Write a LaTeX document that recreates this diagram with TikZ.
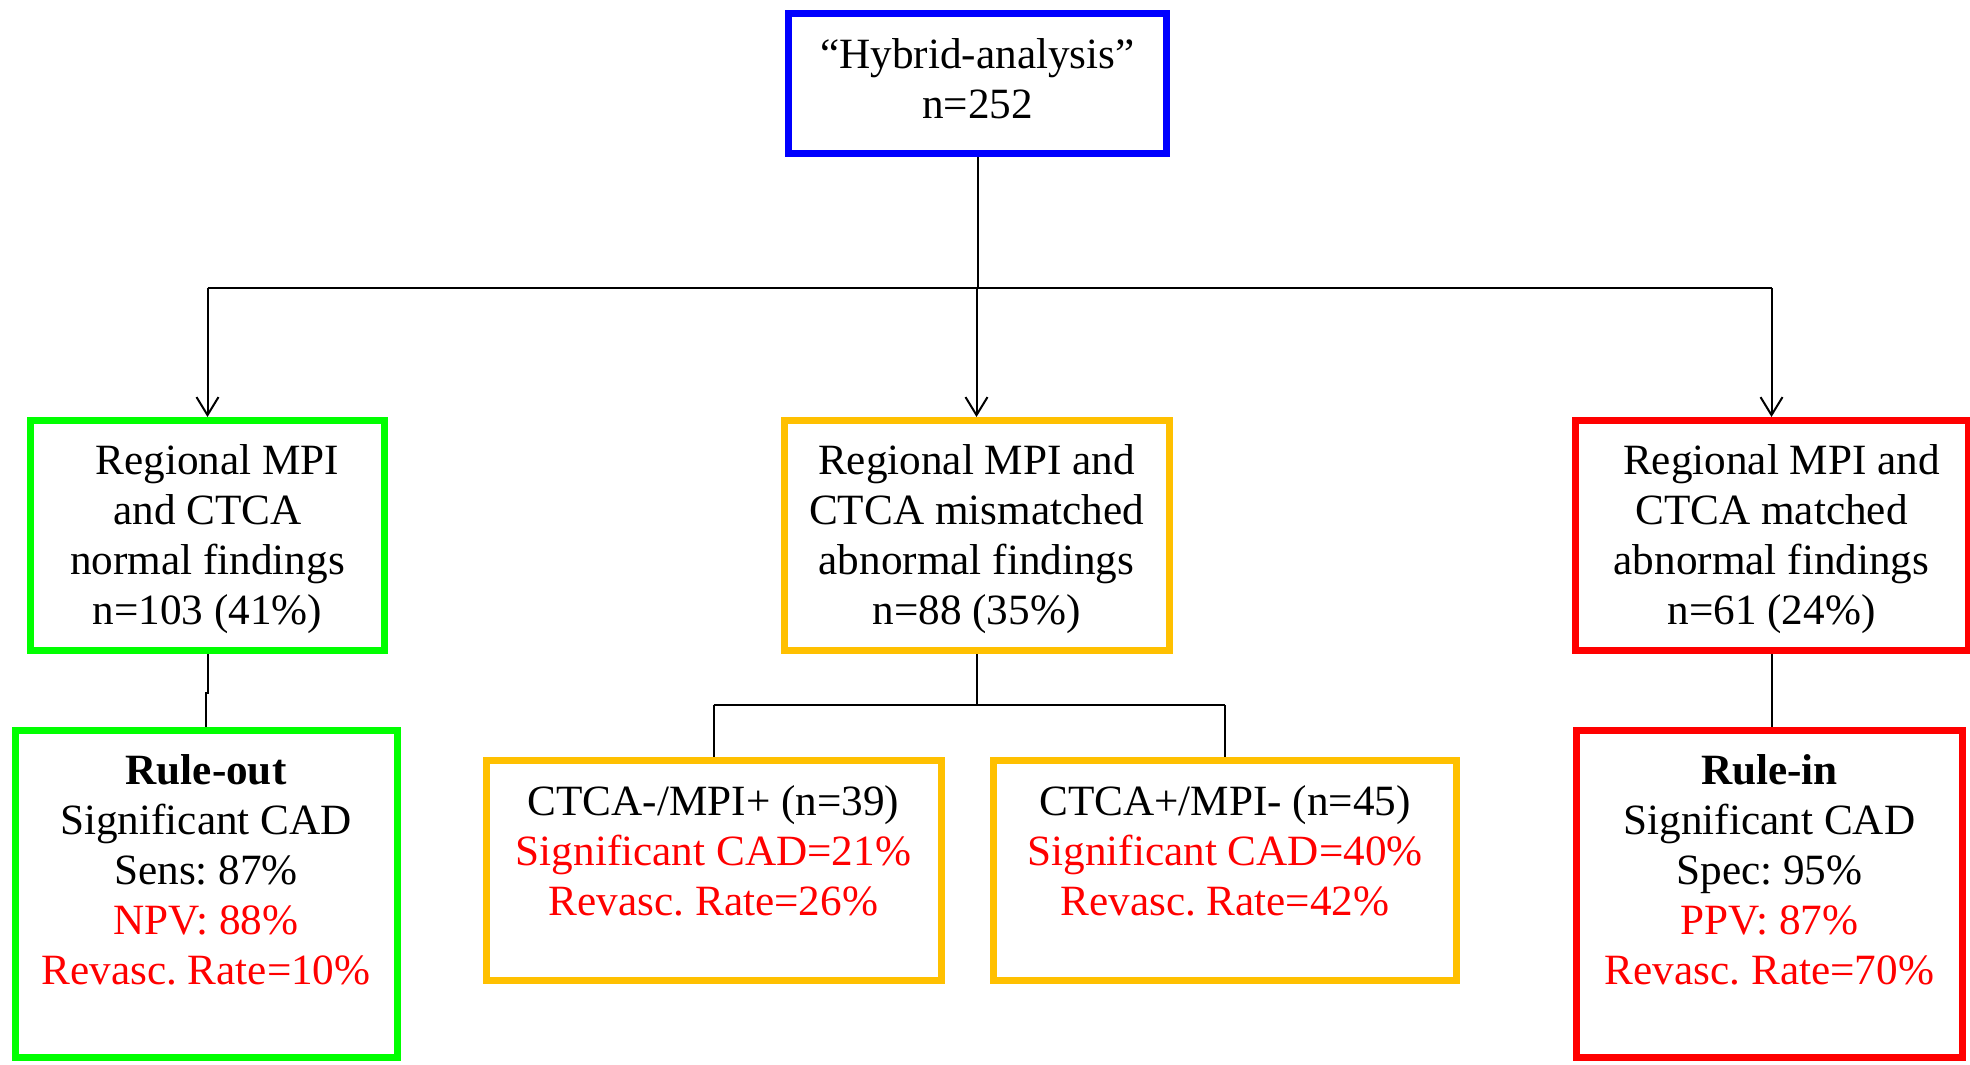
\documentclass[tikz,border=0pt]{standalone}
\usepackage{fontspec}
\setmainfont{Liberation Serif}
\usetikzlibrary{arrows.meta}
\definecolor{myblue}{RGB}{0,0,255}
\definecolor{mygreen}{RGB}{0,255,0}
\definecolor{myorange}{RGB}{255,192,0}
\definecolor{myred}{RGB}{255,0,0}
\frenchspacing
\begin{document}
\begin{tikzpicture}[x=0.5pt,y=-0.5pt,
  box/.style={draw=#1, line width=3.5pt, rectangle, inner sep=0pt, fill=white},
  sz/.style 2 args={minimum width=#1*0.5pt, minimum height=#2*0.5pt},
  txt/.style={align=center, inner sep=0pt, font=\fontsize{21.6}{25}\selectfont},
  conn/.style={line width=1pt, draw=black},
  arr/.style={conn, -{Straight Barb[length=9pt,width=11pt,line width=1pt]}},
]
\useasboundingbox (0,0) rectangle (1970,1065);

% boxes
\node[box=myblue, sz={378}{140}] (top) at (977.5,83.5) {};
\node[box=mygreen, sz={354}{230}] (G1) at (207.5,535.5) {};
\node[box=myorange, sz={385}{230}] (O1) at (976.5,535.5) {};
\node[box=myred, sz={393}{230}] (R1) at (1771.5,535.5) {};
\node[box=mygreen, sz={382}{327}] (G2) at (206,893.5) {};
\node[box=myorange, sz={455}{220}] (O2a) at (713.5,870.5) {};
\node[box=myorange, sz={463}{220}] (O2b) at (1225,870.5) {};
\node[box=myred, sz={386}{327}] (R2) at (1769.5,893.5) {};

% texts
\node[txt] (topt) at (977.5,84) {\strut“Hybrid-analysis”\\\strut n=252};
\node[txt] (G1t) at (207.5,539) {\strut\hspace*{10pt}Regional MPI\\\strut and CTCA\\\strut normal findings\\\strut n=103 (41\%)};
\node[txt] (O1t) at (976.5,539) {\strut Regional MPI and\\\strut CTCA mismatched\\\strut abnormal findings\\\strut n=88 (35\%)};
\node[txt] (R1t) at (1771.5,539) {\strut\hspace*{10pt}Regional MPI and\\\strut CTCA matched\\\strut abnormal findings\\\strut n=61 (24\%)};
\node[txt] (G2t) at (206,874) {\strut\textbf{Rule-out}\\\strut Significant CAD\\\strut Sens: 87\%\\\strut\textcolor{myred}{NPV: 88\%}\\\strut\textcolor{myred}{Revasc. Rate=10\%}};
\node[txt] (O2at) at (713.5,855) {\strut CTCA-/MPI+ (n=39)\\\strut\textcolor{myred}{Significant CAD=21\%}\\\strut\textcolor{myred}{Revasc. Rate=26\%}};
\node[txt] (O2bt) at (1225,855) {\strut CTCA+/MPI- (n=45)\\\strut\textcolor{myred}{Significant CAD=40\%}\\\strut\textcolor{myred}{Revasc. Rate=42\%}};
\node[txt] (R2t) at (1769.5,874) {\strut\textbf{Rule-in}\\\strut Significant CAD\\\strut Spec: 95\%\\\strut\textcolor{myred}{PPV: 87\%}\\\strut\textcolor{myred}{Revasc. Rate=70\%}};

% connectors
\coordinate (bus) at (977,288);
\coordinate (mid) at (976,705);
\draw[conn] (top.south) -- (top.south |- bus);
\draw[conn] (G1.north |- bus) -- (R1.north |- bus);
\draw[arr] (G1.north |- bus) -- (G1.north);
\draw[arr] (O1.north |- bus) -- (O1.north);
\draw[arr] (R1.north |- bus) -- (R1.north);
\draw[conn] (O1.south) -- (O1.south |- mid);
\draw[conn] (O2a.north |- mid) -- (O2b.north |- mid);
\draw[conn] (O2a.north |- mid) -- (O2a.north);
\draw[conn] (O2b.north |- mid) -- (O2b.north);
\draw[conn] (G1.south) -- ++(0,39) -| (G2.north);
\draw[conn] (R1.south) -- (R1.south |- R2.north);
\end{tikzpicture}
\end{document}
